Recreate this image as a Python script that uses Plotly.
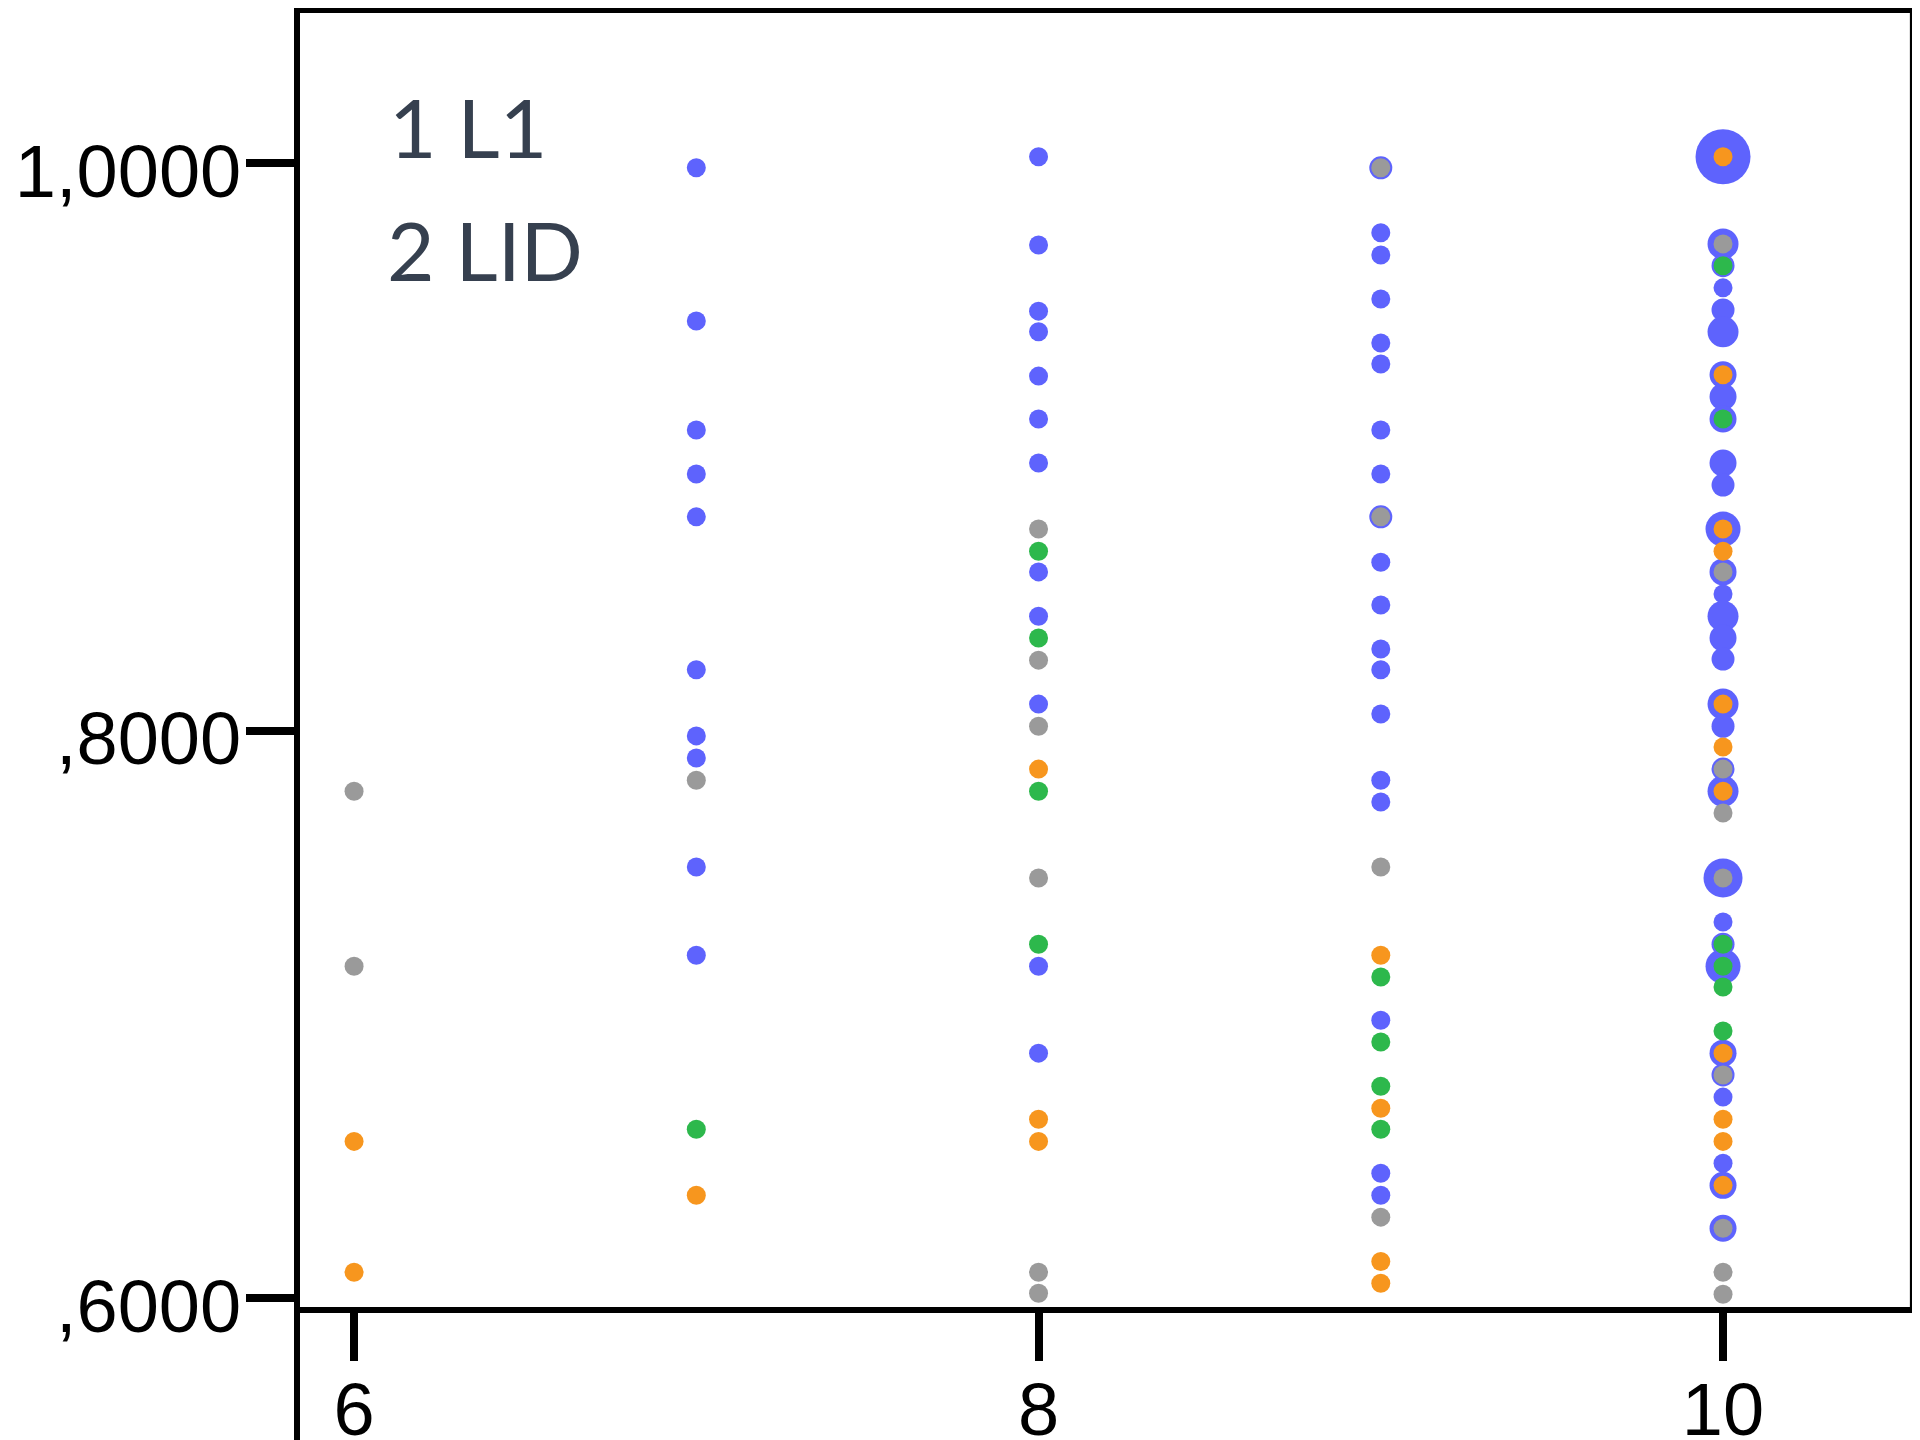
import plotly.graph_objects as go

# ---- data ----
blue_x = [7]*10 + [8]*12 + [9]*19 + [10]*31
blue_y = [
    # x = 7
    0.9983, 0.9443, 0.9059, 0.8904, 0.8753, 0.8214, 0.7981, 0.7903, 0.7519, 0.7208,
    # x = 8
    1.0022, 0.9711, 0.9478, 0.9405, 0.9249, 0.9098, 0.8943, 0.8559, 0.8403, 0.8093, 0.7169, 0.6863,
    # x = 9
    0.9983, 0.9754, 0.9676, 0.9521, 0.9366, 0.9292, 0.9059, 0.8904, 0.8753, 0.8593,
    0.8442, 0.8287, 0.8214, 0.8058, 0.7825, 0.7748, 0.6979, 0.6440, 0.6362,
    # x = 10
    1.0022, 0.9715, 0.9638, 0.9560, 0.9482, 0.9405, 0.9254, 0.9176, 0.9098, 0.8943,
    0.8865, 0.8710, 0.8559, 0.8481, 0.8403, 0.8326, 0.8252, 0.8093, 0.8015, 0.7864,
    0.7786, 0.7480, 0.7325, 0.7247, 0.7169, 0.6863, 0.6786, 0.6708, 0.6475, 0.6397, 0.6246,
]
blue_n = (
    [1]*10
    + [1]*12
    + [2, 1, 1, 1, 1, 1, 1, 1, 2, 1, 1, 1, 1, 1, 1, 1, 1, 1, 1]
    + [10, 4, 2, 1, 2, 4, 3, 3, 3, 3,
       2, 5, 3, 1, 4, 3, 2, 4, 2, 2,
       4, 6, 1, 2, 5, 3, 2, 1, 1, 3, 3]
)

orange_x = [6, 6, 7, 8, 8, 8, 9, 9, 9, 9] + [10]*11
orange_y = [0.6552, 0.6091, 0.6362, 0.7864, 0.6630, 0.6552, 0.7208, 0.6669, 0.6129, 0.6052,
            1.0022, 0.9254, 0.8710, 0.8632, 0.8093, 0.7942, 0.7786, 0.6863, 0.6630, 0.6552, 0.6397]

green_x = [7, 8, 8, 8, 8, 9, 9, 9, 9] + [10]*6
green_y = [0.6595, 0.8632, 0.8326, 0.7786, 0.7247, 0.7131, 0.6902, 0.6746, 0.6595,
           0.9638, 0.9098, 0.7247, 0.7169, 0.7096, 0.6941]

gray_x = [6, 6, 7, 8, 8, 8, 8, 8, 8, 9, 9, 9, 9] + [10]*9
gray_y = [0.7786, 0.7169, 0.7825, 0.8710, 0.8248, 0.8015, 0.7480, 0.6091, 0.6017,
          0.9983, 0.8753, 0.7519, 0.6285,
          0.9715, 0.8559, 0.7864, 0.7709, 0.7480, 0.6786, 0.6246, 0.6091, 0.6013]

x_tickvals = [6, 8, 10]
x_ticktext = ["6", "8", "10"]
y_tickvals = [0.6, 0.8, 1.0]
y_ticktext = [",6000", ",8000", "1,0000"]
legend_lines = ["1 L1", "2 LID"]

# ---- figure ----
BLUE = "#5e63fd"
ORANGE = "#f7961e"
GREEN = "#2db84c"
GRAY = "#9a9a9a"
SMALL = 19

fig = go.Figure()
fig.add_trace(go.Scatter(
    x=blue_x, y=blue_y, mode="markers",
    marker=dict(color=BLUE, size=[15 + 4 * n for n in blue_n], line=dict(width=0), opacity=1),
    showlegend=False))
for xs, ys, col in [(orange_x, orange_y, ORANGE), (green_x, green_y, GREEN), (gray_x, gray_y, GRAY)]:
    fig.add_trace(go.Scatter(
        x=xs, y=ys, mode="markers",
        marker=dict(color=col, size=SMALL, line=dict(width=0)),
        showlegend=False))

TICKFONT = dict(family="Liberation Sans, Arial, sans-serif", size=74, color="black")

fig.update_layout(
    width=1920, height=1440,
    margin=dict(l=292, r=14, t=0, b=0, autoexpand=False),
    paper_bgcolor="white", plot_bgcolor="white",
    showlegend=False,
    xaxis=dict(
        range=[5.842, 10.558], anchor="free", position=0.0958,
        tickvals=x_tickvals, ticktext=x_ticktext,
        showgrid=False, zeroline=False, automargin=False,
        showline=True, linecolor="black", linewidth=6,
        ticks="outside", ticklen=48, tickwidth=8, tickcolor="black",
        ticklabelstandoff=-15,
        tickfont=TICKFONT,
    ),
    yaxis=dict(
        range=[0.54714, 1.05463],
        tickvals=y_tickvals, ticktext=y_ticktext,
        showgrid=False, zeroline=False, automargin=False,
        showline=True, linecolor="black", linewidth=6,
        ticks="outside", ticklen=48, tickwidth=8, tickcolor="black",
        ticklabelstandoff=-10, ticklabelshift=8,
        tickfont=TICKFONT,
    ),
)

# frame: top and right edges
fig.add_shape(type="line", xref="paper", yref="paper", x0=0, x1=1.0, y0=0.9983, y1=0.9983,
              line=dict(color="black", width=5))
fig.add_shape(type="line", xref="paper", yref="paper", x0=0.999, x1=0.999, y0=0.0958, y1=1.0,
              line=dict(color="black", width=5))

# legend-like text
for txt, xx, yy in zip(legend_lines, [0.0542, 0.0527], [0.9183, 0.8323]):
    fig.add_annotation(text=txt, xref="paper", yref="paper", x=xx, y=yy,
                       xanchor="left", yanchor="middle", showarrow=False,
                       font=dict(family="Lato, Open Sans, sans-serif", size=82, color="#36404f"))

fig.write_html("out.html")
